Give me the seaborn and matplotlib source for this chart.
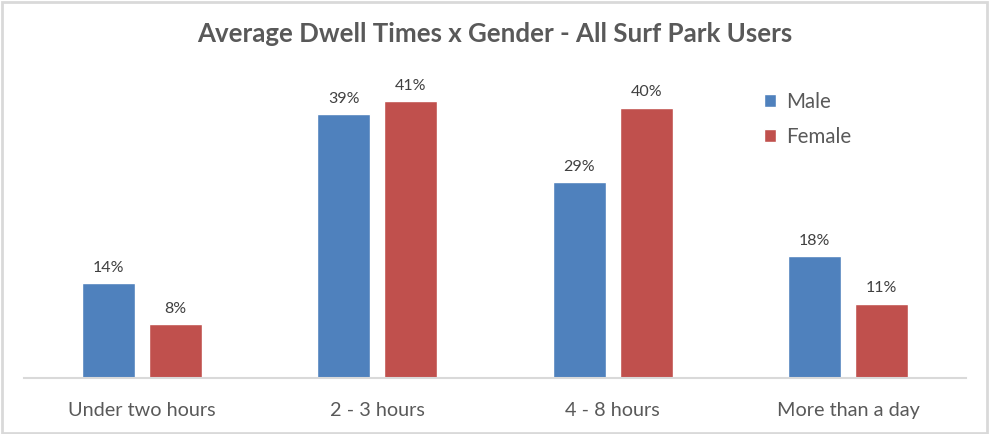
import matplotlib.pyplot as plt
import pandas as pd
import seaborn as sns
from matplotlib.patches import Rectangle

categories = ["Under two hours", "2 - 3 hours", "4 - 8 hours", "More than a day"]
male = [14, 39, 29, 18]
female = [8, 41, 40, 11]

df = pd.DataFrame({
    "category": categories * 2,
    "gender": ["Male"] * 4 + ["Female"] * 4,
    "value": male + female,
})

sns.set_style("white")
plt.rcParams["font.family"] = ["Lato", "DejaVu Sans"]

fig = plt.figure(figsize=(9.9, 4.34), dpi=100)
ax = fig.add_axes([24 / 990, 56 / 434, 942 / 990, 338 / 434])

sns.barplot(
    data=df, x="category", y="value", hue="gender",
    palette={"Male": "#4F81BD", "Female": "#C0504D"},
    width=0.57, gap=0.21, ax=ax, errorbar=None, saturation=1,
)

ax.set_ylim(0, 50)
ax.set_xlabel("")
ax.set_ylabel("")
ax.set_yticks([])
for side in ["top", "right", "left"]:
    ax.spines[side].set_visible(False)
ax.spines["bottom"].set_color("#D9D9D9")
ax.spines["bottom"].set_linewidth(1.5)
ax.tick_params(axis="x", length=0, pad=17, labelsize=14.3, labelcolor="#595959")

for container in ax.containers:
    ax.bar_label(container, fmt="%d%%", padding=6, fontsize=11.5, color="#404040")

handles, labels = ax.get_legend_handles_labels()
ax.legend(
    handles, labels, loc="upper left", bbox_to_anchor=(745 / 990, 1 - 73 / 434),
    bbox_transform=fig.transFigure, frameon=False, fontsize=14.8,
    handlelength=0.6, handleheight=0.6, handletextpad=0.5, labelspacing=0.75,
    labelcolor="#595959",
)

fig.text(0.5, 1 - 34 / 434, "Average Dwell Times x Gender - All Surf Park Users",
         ha="center", va="center", fontsize=18.6, fontweight="bold", color="#595959")

fig.patches.append(Rectangle((0.002, 0.003), 0.995, 0.993, transform=fig.transFigure,
                             fill=False, edgecolor="#D9D9D9", linewidth=2))

fig.savefig("out.png", dpi=100)
